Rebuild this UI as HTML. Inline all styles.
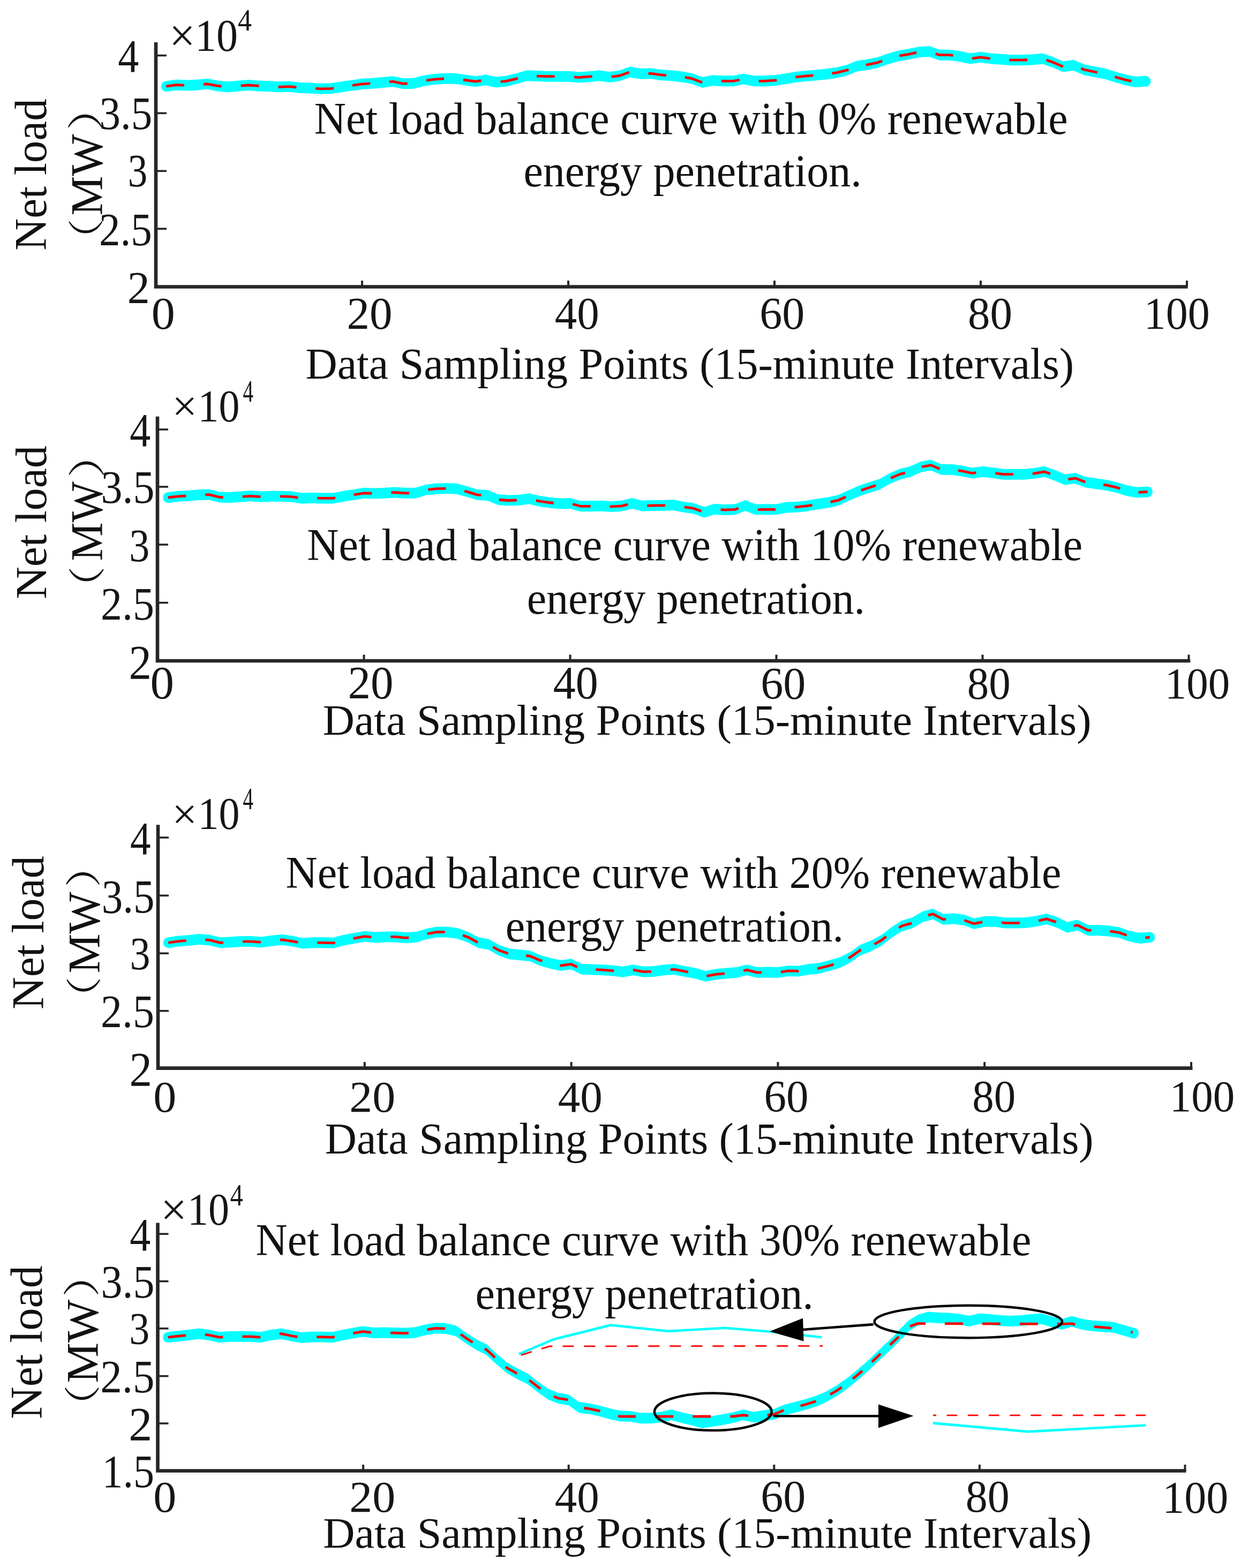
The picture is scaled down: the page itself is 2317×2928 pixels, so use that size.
<!DOCTYPE html>
<html><head><meta charset="utf-8"><title>Net load balance curves</title>
<style>html,body{margin:0;padding:0;background:#fff;}svg{display:block;}</style>
</head><body>
<svg width="2317" height="2928" viewBox="0 0 2317 2928">
<rect width="2317" height="2928" fill="#fff"/>
<path d="M310.25 151.2 L329.5 148.5 L348.75 149.6 L368 148.5 L387.25 146.8 L406.5 150.4 L425.75 152.3 L445 150.4 L464.25 149 L483.5 150.4 L502.75 151.2 L522 152.3 L541.25 151.7 L560.5 153.9 L579.75 154.5 L599 155.8 L618.25 155.3 L637.5 152.3 L656.75 149.6 L676 146.8 L695.25 145.7 L714.5 144.1 L733.75 142.2 L753 146.3 L772.25 145.7 L791.5 140.8 L810.75 138.1 L830 136.8 L849.25 136.8 L868.5 139.5 L887.75 142.2 L907 139.5 L926.25 143.6 L945.5 141.4 L964.75 136.8 L984 131.3 L1003.25 132.1 L1022.5 132.7 L1041.75 132.7 L1061 132.7 L1080.25 134.6 L1099.5 133.2 L1118.75 131.3 L1138 134 L1157.25 131.3 L1176.5 124.5 L1195.75 127.8 L1215 127.2 L1234.25 129.9 L1253.5 131.3 L1272.75 133.2 L1292 136.7 L1311.25 144.1 L1330.5 140.2 L1349.75 141.3 L1369 141.3 L1388.25 137.5 L1407.5 141.3 L1426.75 141.3 L1446 140.2 L1465.25 137.5 L1484.5 134 L1503.75 132.1 L1523 130.4 L1542.25 128.5 L1561.5 125.8 L1580.75 121.2 L1600 113.6 L1619.25 110.8 L1638.5 106.8 L1657.75 100 L1677 94.5 L1696.25 91.3 L1715.5 87.2 L1734.75 85.9 L1754 92.7 L1773.25 92.7 L1792.5 95.4 L1811.75 99.5 L1831 96.8 L1850.25 99.5 L1869.5 100.8 L1888.75 102.2 L1908 102.2 L1927.25 101.4 L1946.5 99.5 L1965.75 106.3 L1985 114.5 L2004.25 111.7 L2023.5 119.9 L2042.75 124 L2062 127.5 L2081.25 133.5 L2100.5 139 L2119.75 143 L2139 141.7 L2139 161.7 L2119.75 163 L2100.5 159 L2081.25 153.5 L2062 147.5 L2042.75 144 L2023.5 139.9 L2004.25 131.7 L1985 134.5 L1965.75 126.3 L1946.5 119.5 L1927.25 121.4 L1908 122.2 L1888.75 122.2 L1869.5 120.8 L1850.25 119.5 L1831 116.8 L1811.75 119.5 L1792.5 115.4 L1773.25 112.7 L1754 112.7 L1734.75 105.9 L1715.5 107.2 L1696.25 111.3 L1677 114.5 L1657.75 120 L1638.5 126.8 L1619.25 130.8 L1600 133.6 L1580.75 141.2 L1561.5 145.8 L1542.25 148.5 L1523 150.4 L1503.75 152.1 L1484.5 154 L1465.25 157.5 L1446 160.2 L1426.75 161.3 L1407.5 161.3 L1388.25 157.5 L1369 161.3 L1349.75 161.3 L1330.5 160.2 L1311.25 164.1 L1292 156.7 L1272.75 153.2 L1253.5 151.3 L1234.25 149.9 L1215 147.2 L1195.75 147.8 L1176.5 144.5 L1157.25 151.3 L1138 154 L1118.75 151.3 L1099.5 153.2 L1080.25 154.6 L1061 152.7 L1041.75 152.7 L1022.5 152.7 L1003.25 152.1 L984 151.3 L964.75 156.8 L945.5 161.4 L926.25 163.6 L907 159.5 L887.75 162.2 L868.5 159.5 L849.25 156.8 L830 156.8 L810.75 158.1 L791.5 160.8 L772.25 165.7 L753 166.3 L733.75 162.2 L714.5 164.1 L695.25 165.7 L676 166.8 L656.75 169.6 L637.5 172.3 L618.25 175.3 L599 175.8 L579.75 174.5 L560.5 173.9 L541.25 171.7 L522 172.3 L502.75 171.2 L483.5 170.4 L464.25 169 L445 170.4 L425.75 172.3 L406.5 170.4 L387.25 166.8 L368 168.5 L348.75 169.6 L329.5 168.5 L310.25 171.2 Z " fill="#00FFFF"/>
<ellipse cx="310.25" cy="161.2" rx="9.5" ry="10.0" fill="#00FFFF"/>
<ellipse cx="2139" cy="151.7" rx="9.5" ry="10.0" fill="#00FFFF"/>
<path d="M310.25 161.2 L329.5 158.5 L343.99 159.33 M380.14 157.43 L387.25 156.8 L406.5 160.4 L413.73 161.11 M449.81 160.05 L464.25 159 L483.5 160.4 L483.57 160.4 M519.64 162.17 L522 162.3 L541.25 161.7 L553.33 163.08 M589.32 165.15 L599 165.8 L618.25 165.3 L622.96 164.57 M658.05 159.41 L676 156.8 L691.17 155.93 M727.07 152.86 L733.75 152.2 L753 156.3 L760.83 156.06 M796.11 150.15 L810.75 148.1 L829.11 146.86 M865.03 149.01 L868.5 149.5 L887.75 152.2 L898.59 150.68 M934.68 152.64 L945.5 151.4 L964.75 146.8 L966.77 146.22 M1001.99 142.05 L1003.25 142.1 L1022.5 142.7 L1035.76 142.7 M1071.91 143.78 L1080.25 144.6 L1099.5 143.2 L1105.69 142.59 M1141.75 143.47 L1157.25 141.3 L1174.79 135.11 M1210.53 137.34 L1215 137.2 L1234.25 139.9 L1243.94 140.6 M1278.91 144.32 L1292 146.7 L1311.05 154.02 M1346.95 151.14 L1349.75 151.3 L1369 151.3 L1380.66 149 M1416.82 151.3 L1426.75 151.3 L1446 150.2 L1450.3 149.6 M1485.34 143.92 L1503.75 142.1 L1518.39 140.81 M1553.57 136.91 L1561.5 135.8 L1580.75 131.2 L1584.32 129.79 M1616.82 121.15 L1619.25 120.8 L1638.5 116.8 L1647.24 113.71 M1679.35 104.11 L1696.25 101.3 L1711.07 98.14 M1746.86 100.18 L1754 102.7 L1773.25 102.7 L1779.44 103.57 M1815.09 109.03 L1831 106.8 L1848.73 109.29 M1884.56 111.89 L1888.75 112.2 L1908 112.2 L1918.29 111.77 M1953.62 112.02 L1965.75 116.3 L1984.79 124.41 M2018.38 127.72 L2023.5 129.9 L2042.75 134 L2048.82 135.1 M2081.41 143.55 L2100.5 149 L2112.37 151.47" fill="none" stroke="#FF0000" stroke-width="4.8" stroke-linejoin="round"/>
<line x1="291" y1="103.6" x2="311" y2="103.6" stroke="#262626" stroke-width="3.6"/>
<line x1="291" y1="211.3" x2="311" y2="211.3" stroke="#262626" stroke-width="3.6"/>
<line x1="291" y1="319.3" x2="311" y2="319.3" stroke="#262626" stroke-width="3.6"/>
<line x1="291" y1="427.2" x2="311" y2="427.2" stroke="#262626" stroke-width="3.6"/>
<line x1="676" y1="535.5" x2="676" y2="524" stroke="#262626" stroke-width="4"/>
<line x1="1061" y1="535.5" x2="1061" y2="524" stroke="#262626" stroke-width="4"/>
<line x1="1446" y1="535.5" x2="1446" y2="524" stroke="#262626" stroke-width="4"/>
<line x1="1831" y1="535.5" x2="1831" y2="524" stroke="#262626" stroke-width="4"/>
<line x1="2216" y1="535.5" x2="2216" y2="524" stroke="#262626" stroke-width="4"/>
<path d="M291 79 V535.5 H2217.5" fill="none" stroke="#262626" stroke-width="6.6" stroke-linecap="butt" stroke-linejoin="miter"/>
<text transform="matrix(0.86 0 0 0.88 316.02 95.71)" font-family="'Liberation Serif', 'Times New Roman', serif" font-size="100" fill="#161616">×</text>
<text transform="matrix(0.8 0 0 0.85 364.1 94.99)" font-family="'Liberation Serif', 'Times New Roman', serif" font-size="100" fill="#161616">10</text>
<text transform="matrix(0.52 0 0 0.56 444.06 57.3)" font-family="'Liberation Serif', 'Times New Roman', serif" font-size="100" fill="#161616">4</text>
<text transform="matrix(0.78 0 0 0.87 220.33 133.5)" font-family="'Liberation Serif', 'Times New Roman', serif" font-size="100" fill="#161616">4</text>
<text transform="matrix(0.79 0 0 0.86 185.46 240.94)" font-family="'Liberation Serif', 'Times New Roman', serif" font-size="100" fill="#161616">3.5</text>
<text transform="matrix(0.73 0 0 0.86 238.73 348.14)" font-family="'Liberation Serif', 'Times New Roman', serif" font-size="100" fill="#161616">3</text>
<text transform="matrix(0.79 0 0 0.86 185.03 457.74)" font-family="'Liberation Serif', 'Times New Roman', serif" font-size="100" fill="#161616">2.5</text>
<text transform="matrix(0.84 0 0 0.85 237.83 565.8)" font-family="'Liberation Serif', 'Times New Roman', serif" font-size="100" fill="#161616">2</text>
<text transform="matrix(0.88 0 0 0.85 282.79 614.3)" font-family="'Liberation Serif', 'Times New Roman', serif" font-size="100" fill="#161616">0</text>
<text transform="matrix(0.85 0 0 0.85 647.61 614.3)" font-family="'Liberation Serif', 'Times New Roman', serif" font-size="100" fill="#161616">20</text>
<text transform="matrix(0.83 0 0 0.85 1035.84 614.3)" font-family="'Liberation Serif', 'Times New Roman', serif" font-size="100" fill="#161616">40</text>
<text transform="matrix(0.84 0 0 0.85 1418.14 614.3)" font-family="'Liberation Serif', 'Times New Roman', serif" font-size="100" fill="#161616">60</text>
<text transform="matrix(0.83 0 0 0.85 1806.99 614.3)" font-family="'Liberation Serif', 'Times New Roman', serif" font-size="100" fill="#161616">80</text>
<text transform="matrix(0.82 0 0 0.84 2135.66 614.32)" font-family="'Liberation Serif', 'Times New Roman', serif" font-size="100" fill="#161616">100</text>
<text transform="matrix(0.82 0 0 0.83 570.44 706.7)" font-family="'Liberation Serif', 'Times New Roman', serif" font-size="100" fill="#111">Data Sampling Points (15-minute Intervals)</text>
<text transform="matrix(0.82 0 0 0.85 586.83 249.9)" font-family="'Liberation Serif', 'Times New Roman', serif" font-size="100" fill="#111">Net load balance curve with 0% renewable</text>
<text transform="matrix(0.82 0 0 0.85 977.41 348.2)" font-family="'Liberation Serif', 'Times New Roman', serif" font-size="100" fill="#111">energy penetration.</text>
<text transform="matrix(0 -0.83 0.85 0 86 467.8)" font-family="'Liberation Serif', 'Times New Roman', serif" font-size="100" fill="#111">Net load</text>
<text transform="matrix(0 -0.83 0.85 0 190.6 402.5)" font-family="'Liberation Serif', 'Times New Roman', serif" font-size="100" fill="#111">MW</text>
<text transform="matrix(0 -0.78 0.67 0 185.31 486.32)" font-family="'Liberation Serif', 'Noto Serif CJK SC', serif" font-size="100" fill="#111">（</text>
<text transform="matrix(0 -0.85 0.68 0 185.18 243.44)" font-family="'Liberation Serif', 'Noto Serif CJK SC', serif" font-size="100" fill="#111">）</text>
<path d="M313.75 919 L333 916.8 L352.25 915.7 L371.5 914.1 L390.75 913.6 L410 918.5 L429.25 919 L448.5 917.6 L467.75 916.3 L487 917.6 L506.25 916.8 L525.5 916.8 L544.75 917.6 L564 920.4 L583.25 919.8 L602.5 920.4 L621.75 920.4 L641 916.8 L660.25 914.1 L679.5 910.8 L698.75 911.4 L718 910.8 L737.25 909.5 L756.5 910.8 L775.75 910.8 L795 904.8 L814.25 902.7 L833.5 902.1 L852.75 902.7 L872 908.1 L891.25 914.1 L910.5 914.9 L929.75 923.1 L949 924.5 L968.25 923.9 L987.5 921.2 L1006.75 925.8 L1026 928.5 L1045.25 930.4 L1064.5 929.9 L1083.75 935.3 L1103 935.3 L1122.25 934.8 L1141.5 935.9 L1160.75 934.8 L1180 929.9 L1199.25 934.8 L1218.5 934 L1237.75 933.9 L1257 933.1 L1276.25 936.7 L1295.5 939.4 L1314.75 946.7 L1334 940.7 L1353.25 942.1 L1372.5 941.3 L1391.75 933.9 L1411 941.6 L1430.25 941.3 L1449.5 941.3 L1468.75 937.5 L1488 936.7 L1507.25 934.7 L1526.5 931.2 L1545.75 928.5 L1565 924.2 L1584.25 915.5 L1603.5 907 L1622.75 900.5 L1642 894.5 L1661.25 883.6 L1680.5 875.4 L1699.75 870.8 L1719 862.1 L1738.25 858.6 L1757.5 866.8 L1776.75 866.8 L1796 869.5 L1815.25 873.6 L1834.5 870.8 L1853.75 873 L1873 875.7 L1892.25 875.7 L1911.5 875.7 L1930.75 874.1 L1950 870.8 L1969.25 877.6 L1988.5 885.8 L2007.75 883.1 L2027 890.4 L2046.25 893.2 L2065.5 895.9 L2084.75 900.2 L2104 906.2 L2123.25 909.5 L2142.5 908.4 L2142.5 928.4 L2123.25 929.5 L2104 926.2 L2084.75 920.2 L2065.5 915.9 L2046.25 913.2 L2027 910.4 L2007.75 903.1 L1988.5 905.8 L1969.25 897.6 L1950 890.8 L1930.75 894.1 L1911.5 895.7 L1892.25 895.7 L1873 895.7 L1853.75 893 L1834.5 890.8 L1815.25 893.6 L1796 889.5 L1776.75 886.8 L1757.5 886.8 L1738.25 878.6 L1719 882.1 L1699.75 890.8 L1680.5 895.4 L1661.25 903.6 L1642 914.5 L1622.75 920.5 L1603.5 927 L1584.25 935.5 L1565 944.2 L1545.75 948.5 L1526.5 951.2 L1507.25 954.7 L1488 956.7 L1468.75 957.5 L1449.5 961.3 L1430.25 961.3 L1411 961.6 L1391.75 953.9 L1372.5 961.3 L1353.25 962.1 L1334 960.7 L1314.75 966.7 L1295.5 959.4 L1276.25 956.7 L1257 953.1 L1237.75 953.9 L1218.5 954 L1199.25 954.8 L1180 949.9 L1160.75 954.8 L1141.5 955.9 L1122.25 954.8 L1103 955.3 L1083.75 955.3 L1064.5 949.9 L1045.25 950.4 L1026 948.5 L1006.75 945.8 L987.5 941.2 L968.25 943.9 L949 944.5 L929.75 943.1 L910.5 934.9 L891.25 934.1 L872 928.1 L852.75 922.7 L833.5 922.1 L814.25 922.7 L795 924.8 L775.75 930.8 L756.5 930.8 L737.25 929.5 L718 930.8 L698.75 931.4 L679.5 930.8 L660.25 934.1 L641 936.8 L621.75 940.4 L602.5 940.4 L583.25 939.8 L564 940.4 L544.75 937.6 L525.5 936.8 L506.25 936.8 L487 937.6 L467.75 936.3 L448.5 937.6 L429.25 939 L410 938.5 L390.75 933.6 L371.5 934.1 L352.25 935.7 L333 936.8 L313.75 939 Z " fill="#00FFFF"/>
<ellipse cx="313.75" cy="929" rx="9.5" ry="10.0" fill="#00FFFF"/>
<ellipse cx="2142.5" cy="918.4" rx="9.5" ry="10.0" fill="#00FFFF"/>
<path d="M313.75 929 L333 926.8 L347.31 925.98 M383.28 923.79 L390.75 923.6 L410 928.5 L416.73 928.67 M452.76 927.31 L467.75 926.3 L486.54 927.57 M522.74 926.8 L525.5 926.8 L544.75 927.6 L556.34 929.29 M592.42 930.09 L602.5 930.4 L621.75 930.4 L626.03 929.6 M660.92 923.98 L679.5 920.8 L694.33 921.26 M730.48 919.96 L737.25 919.5 L756.5 920.8 L764.19 920.8 M799.37 914.32 L814.25 912.7 L832.51 912.13 M867.27 916.77 L872 918.1 L891.25 924.1 L898.33 924.39 M931.86 933.25 L949 934.5 L964.87 934.01 M1000.89 934.4 L1006.75 935.8 L1026 938.5 L1033.66 939.26 M1069.2 941.22 L1083.75 945.3 L1102.56 945.3 M1138.74 945.74 L1141.5 945.9 L1160.75 944.8 L1172.28 941.87 M1208.39 944.42 L1218.5 944 L1237.75 943.9 L1242.05 943.72 M1277.72 946.91 L1295.5 949.4 L1309.64 954.76 M1345.53 951.54 L1353.25 952.1 L1372.5 951.3 L1378.72 948.91 M1414.8 951.54 L1430.25 951.3 L1447.97 951.3 M1483.57 946.88 L1488 946.7 L1507.25 944.7 L1516.5 943.02 M1550.56 937.43 L1565 934.2 L1579.21 927.78 M1607.95 915.5 L1622.75 910.5 L1635.13 906.64 M1663.09 892.81 L1680.5 885.4 L1689.92 883.15 M1721 871.74 L1738.25 868.6 L1754.45 875.5 M1789.06 878.53 L1796 879.5 L1815.25 883.6 L1822.46 882.55 M1858.47 883.66 L1873 885.7 L1892 885.7 M1927.95 884.33 L1930.75 884.1 L1950 880.8 L1960.87 884.64 M1994.38 894.98 L2007.75 893.1 L2026.44 900.19 M2060.21 905.16 L2065.5 905.9 L2084.75 910.2 L2091.34 912.25 M2125.58 919.37 L2142.5 918.4" fill="none" stroke="#FF0000" stroke-width="4.8" stroke-linejoin="round"/>
<line x1="294" y1="802" x2="314" y2="802" stroke="#262626" stroke-width="3.6"/>
<line x1="294" y1="909" x2="314" y2="909" stroke="#262626" stroke-width="3.6"/>
<line x1="294" y1="1017" x2="314" y2="1017" stroke="#262626" stroke-width="3.6"/>
<line x1="294" y1="1125.5" x2="314" y2="1125.5" stroke="#262626" stroke-width="3.6"/>
<line x1="679.5" y1="1234" x2="679.5" y2="1222.5" stroke="#262626" stroke-width="4"/>
<line x1="1064.5" y1="1234" x2="1064.5" y2="1222.5" stroke="#262626" stroke-width="4"/>
<line x1="1449.5" y1="1234" x2="1449.5" y2="1222.5" stroke="#262626" stroke-width="4"/>
<line x1="1834.5" y1="1234" x2="1834.5" y2="1222.5" stroke="#262626" stroke-width="4"/>
<line x1="2219.5" y1="1234" x2="2219.5" y2="1222.5" stroke="#262626" stroke-width="4"/>
<path d="M294 777.8 V1234 H2222.3" fill="none" stroke="#262626" stroke-width="6.6" stroke-linecap="butt" stroke-linejoin="miter"/>
<text transform="matrix(0.83 0 0 0.83 321.24 785.82)" font-family="'Liberation Serif', 'Times New Roman', serif" font-size="100" fill="#161616">×</text>
<text transform="matrix(0.78 0 0 0.84 369.46 787.23)" font-family="'Liberation Serif', 'Times New Roman', serif" font-size="100" fill="#161616">10</text>
<text transform="matrix(0.39 0 0 0.58 453.51 750)" font-family="'Liberation Serif', 'Times New Roman', serif" font-size="100" fill="#161616">4</text>
<text transform="matrix(0.78 0 0 0.88 242.25 832.5)" font-family="'Liberation Serif', 'Times New Roman', serif" font-size="100" fill="#161616">4</text>
<text transform="matrix(0.8 0 0 0.87 188.51 939.13)" font-family="'Liberation Serif', 'Times New Roman', serif" font-size="100" fill="#161616">3.5</text>
<text transform="matrix(0.76 0 0 0.87 241.18 1047.93)" font-family="'Liberation Serif', 'Times New Roman', serif" font-size="100" fill="#161616">3</text>
<text transform="matrix(0.8 0 0 0.87 188.1 1156.63)" font-family="'Liberation Serif', 'Times New Roman', serif" font-size="100" fill="#161616">2.5</text>
<text transform="matrix(0.85 0 0 0.9 240.38 1267.5)" font-family="'Liberation Serif', 'Times New Roman', serif" font-size="100" fill="#161616">2</text>
<text transform="matrix(0.89 0 0 0.86 280.44 1304.09)" font-family="'Liberation Serif', 'Times New Roman', serif" font-size="100" fill="#161616">0</text>
<text transform="matrix(0.85 0 0 0.86 649.39 1304.09)" font-family="'Liberation Serif', 'Times New Roman', serif" font-size="100" fill="#161616">20</text>
<text transform="matrix(0.84 0 0 0.86 1032.82 1304.09)" font-family="'Liberation Serif', 'Times New Roman', serif" font-size="100" fill="#161616">40</text>
<text transform="matrix(0.84 0 0 0.84 1420.33 1304.52)" font-family="'Liberation Serif', 'Times New Roman', serif" font-size="100" fill="#161616">60</text>
<text transform="matrix(0.81 0 0 0.84 1805.84 1304.52)" font-family="'Liberation Serif', 'Times New Roman', serif" font-size="100" fill="#161616">80</text>
<text transform="matrix(0.81 0 0 0.83 2174.75 1304.04)" font-family="'Liberation Serif', 'Times New Roman', serif" font-size="100" fill="#161616">100</text>
<text transform="matrix(0.82 0 0 0.81 602.74 1371.7)" font-family="'Liberation Serif', 'Times New Roman', serif" font-size="100" fill="#111">Data Sampling Points (15-minute Intervals)</text>
<text transform="matrix(0.82 0 0 0.84 573.34 1046.3)" font-family="'Liberation Serif', 'Times New Roman', serif" font-size="100" fill="#111">Net load balance curve with 10% renewable</text>
<text transform="matrix(0.82 0 0 0.84 983.71 1146)" font-family="'Liberation Serif', 'Times New Roman', serif" font-size="100" fill="#111">energy penetration.</text>
<text transform="matrix(0 -0.84 0.83 0 86.3 1118.83)" font-family="'Liberation Serif', 'Times New Roman', serif" font-size="100" fill="#111">Net load</text>
<text transform="matrix(0 -0.81 0.85 0 191.3 1047.44)" font-family="'Liberation Serif', 'Times New Roman', serif" font-size="100" fill="#111">MW</text>
<text transform="matrix(0 -0.8 0.69 0 187.63 1137.23)" font-family="'Liberation Serif', 'Noto Serif CJK SC', serif" font-size="100" fill="#111">（</text>
<text transform="matrix(0 -0.89 0.7 0 187.51 892.55)" font-family="'Liberation Serif', 'Noto Serif CJK SC', serif" font-size="100" fill="#111">）</text>
<path d="M314.29 1750.3 L333.58 1747.6 L352.87 1745.9 L372.16 1744 L391.45 1745.4 L410.74 1750.3 L430.03 1749.5 L449.32 1748.1 L468.61 1748.1 L487.9 1749.5 L507.19 1746.8 L526.48 1744.8 L545.77 1747.6 L565.06 1751.4 L584.35 1750.3 L603.64 1750.3 L622.93 1750.8 L642.22 1745.4 L661.51 1742.1 L680.8 1738.6 L700.09 1740.5 L719.38 1739.4 L738.67 1739.4 L757.96 1741.3 L777.25 1739.9 L796.54 1734 L815.83 1730.4 L835.12 1730.4 L854.41 1733.1 L873.7 1739.9 L892.99 1750.3 L912.28 1753.6 L931.57 1764.5 L950.86 1771.3 L970.15 1773.2 L989.44 1775.3 L1008.73 1783.5 L1028.02 1789 L1047.31 1793 L1066.6 1790.3 L1085.89 1799.8 L1105.18 1800.4 L1124.47 1801.2 L1143.76 1802.6 L1163.05 1804.7 L1182.34 1801.2 L1201.63 1804.7 L1220.92 1803.9 L1240.21 1801.2 L1259.5 1800.1 L1278.79 1804 L1298.08 1807.5 L1317.37 1812.9 L1336.66 1809.4 L1355.95 1807.5 L1375.24 1806.1 L1394.53 1801.2 L1413.82 1806.1 L1433.11 1805.6 L1452.4 1806.1 L1471.69 1802.9 L1490.98 1803.4 L1510.27 1800.1 L1529.56 1798 L1548.85 1793.1 L1568.14 1787.6 L1587.43 1777.5 L1606.72 1763.9 L1626.01 1756.6 L1645.3 1746.2 L1664.59 1731.3 L1683.88 1719 L1703.17 1713.6 L1722.46 1702.1 L1741.75 1696.7 L1761.04 1706.8 L1780.33 1705.4 L1799.62 1708.1 L1818.91 1714.9 L1838.2 1710.8 L1857.49 1710.8 L1876.78 1713.6 L1896.07 1713.6 L1915.36 1713 L1934.65 1710.3 L1953.94 1705.9 L1973.23 1712.2 L1992.52 1721.7 L2011.81 1717.6 L2031.1 1727.2 L2050.39 1727.2 L2069.68 1728.5 L2088.97 1731.3 L2108.26 1738.1 L2127.55 1742.1 L2146.84 1740.2 L2146.84 1760.2 L2127.55 1762.1 L2108.26 1758.1 L2088.97 1751.3 L2069.68 1748.5 L2050.39 1747.2 L2031.1 1747.2 L2011.81 1737.6 L1992.52 1741.7 L1973.23 1732.2 L1953.94 1725.9 L1934.65 1730.3 L1915.36 1733 L1896.07 1733.6 L1876.78 1733.6 L1857.49 1730.8 L1838.2 1730.8 L1818.91 1734.9 L1799.62 1728.1 L1780.33 1725.4 L1761.04 1726.8 L1741.75 1716.7 L1722.46 1722.1 L1703.17 1733.6 L1683.88 1739 L1664.59 1751.3 L1645.3 1766.2 L1626.01 1776.6 L1606.72 1783.9 L1587.43 1797.5 L1568.14 1807.6 L1548.85 1813.1 L1529.56 1818 L1510.27 1820.1 L1490.98 1823.4 L1471.69 1822.9 L1452.4 1826.1 L1433.11 1825.6 L1413.82 1826.1 L1394.53 1821.2 L1375.24 1826.1 L1355.95 1827.5 L1336.66 1829.4 L1317.37 1832.9 L1298.08 1827.5 L1278.79 1824 L1259.5 1820.1 L1240.21 1821.2 L1220.92 1823.9 L1201.63 1824.7 L1182.34 1821.2 L1163.05 1824.7 L1143.76 1822.6 L1124.47 1821.2 L1105.18 1820.4 L1085.89 1819.8 L1066.6 1810.3 L1047.31 1813 L1028.02 1809 L1008.73 1803.5 L989.44 1795.3 L970.15 1793.2 L950.86 1791.3 L931.57 1784.5 L912.28 1773.6 L892.99 1770.3 L873.7 1759.9 L854.41 1753.1 L835.12 1750.4 L815.83 1750.4 L796.54 1754 L777.25 1759.9 L757.96 1761.3 L738.67 1759.4 L719.38 1759.4 L700.09 1760.5 L680.8 1758.6 L661.51 1762.1 L642.22 1765.4 L622.93 1770.8 L603.64 1770.3 L584.35 1770.3 L565.06 1771.4 L545.77 1767.6 L526.48 1764.8 L507.19 1766.8 L487.9 1769.5 L468.61 1768.1 L449.32 1768.1 L430.03 1769.5 L410.74 1770.3 L391.45 1765.4 L372.16 1764 L352.87 1765.9 L333.58 1767.6 L314.29 1770.3 Z " fill="#00FFFF"/>
<ellipse cx="314.29" cy="1760.3" rx="9.5" ry="10.0" fill="#00FFFF"/>
<ellipse cx="2146.84" cy="1750.2" rx="9.5" ry="10.0" fill="#00FFFF"/>
<path d="M314.29 1760.3 L333.58 1757.6 L347.68 1756.36 M383.59 1754.83 L391.45 1755.4 L410.74 1760.3 L416.96 1760.04 M453.06 1758.1 L468.61 1758.1 L486.84 1759.42 M522.89 1755.17 L526.48 1754.8 L545.77 1757.6 L556.28 1759.67 M592.26 1760.3 L603.64 1760.3 L622.93 1760.8 L625.7 1760.02 M659.89 1752.38 L661.51 1752.1 L680.8 1748.6 L693.25 1749.83 M729.41 1749.4 L738.67 1749.4 L757.96 1751.3 L763.12 1750.93 M797.8 1743.76 L815.83 1740.4 L830.71 1740.4 M864.04 1746.49 L873.7 1749.9 L892.03 1759.78 M920.54 1768.27 L931.57 1774.5 L948.59 1780.5 M982.18 1784.51 L989.44 1785.3 L1008.73 1793.5 L1012.31 1794.52 M1045.53 1802.63 L1047.31 1803 L1066.6 1800.3 L1077.74 1805.78 M1112.42 1810.7 L1124.47 1811.2 L1143.76 1812.6 L1145.97 1812.84 M1182.13 1811.24 L1182.34 1811.2 L1201.63 1814.7 L1215.92 1814.11 M1251.89 1810.53 L1259.5 1810.1 L1278.79 1814 L1284.75 1815.08 M1319.48 1822.52 L1336.66 1819.4 L1352.87 1817.8 M1388.27 1812.79 L1394.53 1811.2 L1413.82 1816.1 L1421.95 1815.89 M1457.88 1815.19 L1471.69 1812.9 L1490.98 1813.4 L1491.25 1813.35 M1526.28 1808.36 L1529.56 1808 L1548.85 1803.1 L1556.64 1800.88 M1584.09 1789.25 L1587.43 1787.5 L1606.72 1773.9 L1607.69 1773.53 M1632.58 1763.06 L1645.3 1756.2 L1654.66 1748.97 M1678.32 1732.55 L1683.88 1729 L1702.21 1723.87 M1733.01 1709.15 L1741.75 1706.7 L1761.04 1716.8 L1766.12 1716.43 M1800.62 1718.45 L1818.91 1724.9 L1834.06 1721.68 M1870.17 1722.64 L1876.78 1723.6 L1896.07 1723.6 L1903.84 1723.36 M1939.35 1719.23 L1953.94 1715.9 L1971.89 1721.76 M2005.09 1729.03 L2011.81 1727.6 L2031.1 1737.2 L2037.37 1737.2 M2072.39 1738.89 L2088.97 1741.3 L2103.68 1746.49 M2138.55 1751.02 L2146.84 1750.2" fill="none" stroke="#FF0000" stroke-width="4.8" stroke-linejoin="round"/>
<line x1="295" y1="1564" x2="315" y2="1564" stroke="#262626" stroke-width="3.6"/>
<line x1="295" y1="1672.3" x2="315" y2="1672.3" stroke="#262626" stroke-width="3.6"/>
<line x1="295" y1="1780.2" x2="315" y2="1780.2" stroke="#262626" stroke-width="3.6"/>
<line x1="295" y1="1887.7" x2="315" y2="1887.7" stroke="#262626" stroke-width="3.6"/>
<line x1="680.8" y1="1994.6" x2="680.8" y2="1983.1" stroke="#262626" stroke-width="4"/>
<line x1="1066.6" y1="1994.6" x2="1066.6" y2="1983.1" stroke="#262626" stroke-width="4"/>
<line x1="1452.4" y1="1994.6" x2="1452.4" y2="1983.1" stroke="#262626" stroke-width="4"/>
<line x1="1838.2" y1="1994.6" x2="1838.2" y2="1983.1" stroke="#262626" stroke-width="4"/>
<line x1="2224" y1="1994.6" x2="2224" y2="1983.1" stroke="#262626" stroke-width="4"/>
<path d="M295 1540.3 V1994.6 H2226.5" fill="none" stroke="#262626" stroke-width="6.6" stroke-linecap="butt" stroke-linejoin="miter"/>
<text transform="matrix(0.83 0 0 0.83 321.24 1548.32)" font-family="'Liberation Serif', 'Times New Roman', serif" font-size="100" fill="#161616">×</text>
<text transform="matrix(0.78 0 0 0.84 369.46 1548.33)" font-family="'Liberation Serif', 'Times New Roman', serif" font-size="100" fill="#161616">10</text>
<text transform="matrix(0.39 0 0 0.56 453.51 1511.1)" font-family="'Liberation Serif', 'Times New Roman', serif" font-size="100" fill="#161616">4</text>
<text transform="matrix(0.77 0 0 0.86 242.96 1595)" font-family="'Liberation Serif', 'Times New Roman', serif" font-size="100" fill="#161616">4</text>
<text transform="matrix(0.79 0 0 0.89 189.87 1704.11)" font-family="'Liberation Serif', 'Times New Roman', serif" font-size="100" fill="#161616">3.5</text>
<text transform="matrix(0.76 0 0 0.87 242.5 1810.43)" font-family="'Liberation Serif', 'Times New Roman', serif" font-size="100" fill="#161616">3</text>
<text transform="matrix(0.8 0 0 0.87 188.1 1917.93)" font-family="'Liberation Serif', 'Times New Roman', serif" font-size="100" fill="#161616">2.5</text>
<text transform="matrix(0.85 0 0 0.9 241.62 2027.5)" font-family="'Liberation Serif', 'Times New Roman', serif" font-size="100" fill="#161616">2</text>
<text transform="matrix(0.86 0 0 0.83 286.34 2076.14)" font-family="'Liberation Serif', 'Times New Roman', serif" font-size="100" fill="#161616">0</text>
<text transform="matrix(0.86 0 0 0.83 652.26 2076.14)" font-family="'Liberation Serif', 'Times New Roman', serif" font-size="100" fill="#161616">20</text>
<text transform="matrix(0.83 0 0 0.83 1041.64 2076.14)" font-family="'Liberation Serif', 'Times New Roman', serif" font-size="100" fill="#161616">40</text>
<text transform="matrix(0.83 0 0 0.84 1426.59 2075.82)" font-family="'Liberation Serif', 'Times New Roman', serif" font-size="100" fill="#161616">60</text>
<text transform="matrix(0.81 0 0 0.84 1815.24 2075.82)" font-family="'Liberation Serif', 'Times New Roman', serif" font-size="100" fill="#161616">80</text>
<text transform="matrix(0.81 0 0 0.83 2183.72 2074.94)" font-family="'Liberation Serif', 'Times New Roman', serif" font-size="100" fill="#161616">100</text>
<text transform="matrix(0.82 0 0 0.82 606.84 2154)" font-family="'Liberation Serif', 'Times New Roman', serif" font-size="100" fill="#111">Data Sampling Points (15-minute Intervals)</text>
<text transform="matrix(0.82 0 0 0.84 533.44 1658.2)" font-family="'Liberation Serif', 'Times New Roman', serif" font-size="100" fill="#111">Net load balance curve with 20% renewable</text>
<text transform="matrix(0.82 0 0 0.84 943.71 1757.7)" font-family="'Liberation Serif', 'Times New Roman', serif" font-size="100" fill="#111">energy penetration.</text>
<text transform="matrix(0 -0.84 0.84 0 81.3 1885.03)" font-family="'Liberation Serif', 'Times New Roman', serif" font-size="100" fill="#111">Net load</text>
<text transform="matrix(0 -0.83 0.85 0 186.3 1817.5)" font-family="'Liberation Serif', 'Times New Roman', serif" font-size="100" fill="#111">MW</text>
<text transform="matrix(0 -0.8 0.67 0 181.45 1903.53)" font-family="'Liberation Serif', 'Noto Serif CJK SC', serif" font-size="100" fill="#111">（</text>
<text transform="matrix(0 -0.8 0.67 0 180.25 1656.92)" font-family="'Liberation Serif', 'Noto Serif CJK SC', serif" font-size="100" fill="#111">）</text>
<path d="M313.68 2487.2 L332.86 2485 L352.04 2483.1 L371.22 2480.4 L390.4 2483.1 L409.58 2487.2 L428.76 2485.8 L447.94 2485.8 L467.12 2485.8 L486.3 2487.2 L505.48 2483.1 L524.66 2480.4 L543.84 2484.5 L563.02 2487.7 L582.2 2486.6 L601.38 2486.6 L620.56 2487.2 L639.74 2483.1 L658.92 2479.6 L678.1 2476.3 L697.28 2479 L716.46 2478.5 L735.64 2479 L754.82 2479.6 L774 2478.5 L793.18 2473.6 L812.36 2470.3 L831.54 2470.8 L850.72 2474.9 L869.9 2488.5 L889.08 2500.8 L908.26 2510.3 L927.44 2528 L946.62 2544.3 L965.8 2555.2 L984.98 2564.8 L1004.16 2579.7 L1023.34 2593.4 L1042.52 2601 L1061.7 2604.2 L1080.88 2617.9 L1100.06 2620.6 L1119.24 2624.7 L1138.42 2630.1 L1157.6 2634.2 L1176.78 2634.7 L1195.96 2638.3 L1215.14 2638.3 L1234.32 2636 L1253.5 2631.9 L1272.68 2637.3 L1291.86 2641.4 L1311.04 2646.9 L1330.22 2644.1 L1349.4 2640.9 L1368.58 2637.3 L1387.76 2631.9 L1406.94 2636.5 L1426.12 2633.2 L1445.3 2631 L1464.48 2623 L1483.66 2618 L1502.84 2613 L1522.02 2607 L1541.2 2599 L1560.38 2588 L1579.56 2575 L1598.74 2559.5 L1617.92 2543 L1637.1 2524.6 L1656.28 2506.5 L1675.46 2488.5 L1694.64 2467 L1713.82 2455 L1733 2449.5 L1752.18 2451 L1771.36 2451.5 L1790.54 2453.5 L1809.72 2457 L1828.9 2452.5 L1848.08 2454 L1867.26 2456 L1886.44 2457 L1905.62 2456 L1924.8 2454 L1943.98 2452.5 L1963.16 2458 L1982.34 2463.1 L2001.52 2457.6 L2020.7 2463.1 L2039.88 2465.8 L2059.06 2467.2 L2078.24 2468.5 L2097.42 2474 L2116.6 2479.4 L2116.6 2499.4 L2097.42 2494 L2078.24 2488.5 L2059.06 2487.2 L2039.88 2485.8 L2020.7 2483.1 L2001.52 2477.6 L1982.34 2483.1 L1963.16 2478 L1943.98 2472.5 L1924.8 2474 L1905.62 2476 L1886.44 2477 L1867.26 2476 L1848.08 2474 L1828.9 2472.5 L1809.72 2477 L1790.54 2473.5 L1771.36 2471.5 L1752.18 2471 L1733 2469.5 L1713.82 2475 L1694.64 2487 L1675.46 2508.5 L1656.28 2526.5 L1637.1 2544.6 L1617.92 2563 L1598.74 2579.5 L1579.56 2595 L1560.38 2608 L1541.2 2619 L1522.02 2627 L1502.84 2633 L1483.66 2638 L1464.48 2643 L1445.3 2651 L1426.12 2653.2 L1406.94 2656.5 L1387.76 2651.9 L1368.58 2657.3 L1349.4 2660.9 L1330.22 2664.1 L1311.04 2666.9 L1291.86 2661.4 L1272.68 2657.3 L1253.5 2651.9 L1234.32 2656 L1215.14 2658.3 L1195.96 2658.3 L1176.78 2654.7 L1157.6 2654.2 L1138.42 2650.1 L1119.24 2644.7 L1100.06 2640.6 L1080.88 2637.9 L1061.7 2624.2 L1042.52 2621 L1023.34 2613.4 L1004.16 2599.7 L984.98 2584.8 L965.8 2575.2 L946.62 2564.3 L927.44 2548 L908.26 2530.3 L889.08 2520.8 L869.9 2508.5 L850.72 2494.9 L831.54 2490.8 L812.36 2490.3 L793.18 2493.6 L774 2498.5 L754.82 2499.6 L735.64 2499 L716.46 2498.5 L697.28 2499 L678.1 2496.3 L658.92 2499.6 L639.74 2503.1 L620.56 2507.2 L601.38 2506.6 L582.2 2506.6 L563.02 2507.7 L543.84 2504.5 L524.66 2500.4 L505.48 2503.1 L486.3 2507.2 L467.12 2505.8 L447.94 2505.8 L428.76 2505.8 L409.58 2507.2 L390.4 2503.1 L371.22 2500.4 L352.04 2503.1 L332.86 2505 L313.68 2507.2 Z M1665.46 2498.5 L1684.64 2477 L1704.64 2477 L1685.46 2498.5 Z" fill="#00FFFF"/>
<ellipse cx="313.68" cy="2497.2" rx="9.5" ry="10.0" fill="#00FFFF"/>
<ellipse cx="2116.6" cy="2489.4" rx="9.5" ry="10.0" fill="#00FFFF"/>
<path d="M313.68 2497.2 L332.86 2495 L347.02 2493.6 M382.94 2492.05 L390.4 2493.1 L409.58 2497.2 L416.33 2496.71 M452.45 2495.8 L467.12 2495.8 L486.16 2497.19 M521.98 2490.78 L524.66 2490.4 L543.84 2494.5 L555.3 2496.41 M591.28 2496.6 L601.38 2496.6 L620.56 2497.2 L624.83 2496.29 M659.38 2489.52 L678.1 2486.3 L693 2488.4 M729.11 2488.83 L735.64 2489 L754.82 2489.6 L762.78 2489.14 M797.74 2482.82 L812.36 2480.3 L831.04 2480.79 M860.04 2491.51 L869.9 2498.5 L882.67 2506.69 M904.89 2518.63 L908.26 2520.3 L924.21 2535.02 M944.3 2552.33 L946.62 2554.3 L965.26 2564.89 M988.4 2577.46 L1004.16 2589.7 L1009.37 2593.42 M1034.32 2607.75 L1042.52 2611 L1060.44 2613.99 M1090.45 2629.25 L1100.06 2630.6 L1119.24 2634.7 L1120.51 2635.06 M1153.84 2644.04 L1157.6 2645 L1176.78 2645 L1187.16 2645 M1223.36 2645 L1234.32 2645 L1253.5 2645 L1257.16 2645 M1293.36 2645 L1311.04 2645 L1327.16 2645 M1363.31 2645 L1368.58 2645 L1387.76 2642.5 L1397.08 2643.71 M1432.72 2642.44 L1445.3 2641 L1463.33 2633.48 M1494.68 2625.13 L1502.84 2623 L1522.02 2617 L1523.4 2616.43 M1550.04 2603.93 L1560.38 2598 L1571.6 2590.39 M1592.26 2574.74 L1598.74 2569.5 L1609.97 2559.84 M1628.02 2543.31 L1637.1 2534.6 L1644.43 2527.68 M1661.68 2511.43 L1675.46 2498.5 L1677.91 2495.95 M1699.01 2476.85 L1713.2 2471.5 L1727.83 2471.54 M1764.03 2471.65 L1797.83 2471.75 M1834.02 2471.86 L1867.82 2471.96 M1904.01 2472.07 L1937.81 2472.17 M1974 2472.27 L1982.8 2472.3 L2001.8 2471.7 L2007.09 2473.41 M2042.71 2477.42 L2045.4 2477.7 L2075.34 2480.18 M2111.23 2487.26 L2114.8 2488" fill="none" stroke="#FF0000" stroke-width="4.8" stroke-linejoin="round"/>
<line x1="294.5" y1="2304.2" x2="314.5" y2="2304.2" stroke="#262626" stroke-width="3.6"/>
<line x1="294.5" y1="2392.6" x2="314.5" y2="2392.6" stroke="#262626" stroke-width="3.6"/>
<line x1="294.5" y1="2480.7" x2="314.5" y2="2480.7" stroke="#262626" stroke-width="3.6"/>
<line x1="294.5" y1="2569.6" x2="314.5" y2="2569.6" stroke="#262626" stroke-width="3.6"/>
<line x1="294.5" y1="2658" x2="314.5" y2="2658" stroke="#262626" stroke-width="3.6"/>
<line x1="678.1" y1="2746.5" x2="678.1" y2="2735" stroke="#262626" stroke-width="4"/>
<line x1="1061.7" y1="2746.5" x2="1061.7" y2="2735" stroke="#262626" stroke-width="4"/>
<line x1="1445.3" y1="2746.5" x2="1445.3" y2="2735" stroke="#262626" stroke-width="4"/>
<line x1="1828.9" y1="2746.5" x2="1828.9" y2="2735" stroke="#262626" stroke-width="4"/>
<line x1="2212.5" y1="2746.5" x2="2212.5" y2="2735" stroke="#262626" stroke-width="4"/>
<path d="M294.5 2283.4 V2746.5 H2214.6" fill="none" stroke="#262626" stroke-width="6.6" stroke-linecap="butt" stroke-linejoin="miter"/>
<path d="M969 2528.4 L1033.7 2501 L1140.3 2474.4 L1246.8 2485.8 L1353.4 2479.7 L1444.7 2487.3 L1534.1 2497.2" fill="none" stroke="#00FFFF" stroke-width="4.6"/>
<path d="M972.8 2530.3 L1026.1 2514 L1536 2513.3" fill="none" stroke="#FF0000" stroke-width="2.8" stroke-dasharray="21 19"/>
<path d="M1742 2657.4 L1919.2 2673.4 L2139.2 2661.5" fill="none" stroke="#00FFFF" stroke-width="4.6"/>
<path d="M1742 2642.8 L2139.2 2642.8" fill="none" stroke="#FF0000" stroke-width="2.8" stroke-dasharray="19.5 19.7" stroke-dashoffset="13.5"/>
<ellipse cx="1807.8" cy="2468" rx="175.2" ry="30.2" fill="none" stroke="#000" stroke-width="4.5"/>
<ellipse cx="1331.3" cy="2636.3" rx="109.4" ry="34.8" fill="none" stroke="#000" stroke-width="4.5"/>
<line x1="1630.7" y1="2473.1" x2="1495" y2="2483.2" stroke="#000" stroke-width="4.6"/>
<polygon points="1437,2486.3 1499,2461.5 1500.5,2504.5" fill="#000"/>
<line x1="1444" y1="2644.3" x2="1643" y2="2644.3" stroke="#000" stroke-width="4.6"/>
<polygon points="1705.5,2644 1640,2622.4 1640,2666.6" fill="#000"/>
<text transform="matrix(0.87 0 0 0.87 300.04 2287.68)" font-family="'Liberation Serif', 'Times New Roman', serif" font-size="100" fill="#161616">×</text>
<text transform="matrix(0.78 0 0 0.84 349.94 2287.23)" font-family="'Liberation Serif', 'Times New Roman', serif" font-size="100" fill="#161616">10</text>
<text transform="matrix(0.48 0 0 0.58 429.73 2251.4)" font-family="'Liberation Serif', 'Times New Roman', serif" font-size="100" fill="#161616">4</text>
<text transform="matrix(0.78 0 0 0.86 242.25 2335)" font-family="'Liberation Serif', 'Times New Roman', serif" font-size="100" fill="#161616">4</text>
<text transform="matrix(0.8 0 0 0.87 188.51 2422.93)" font-family="'Liberation Serif', 'Times New Roman', serif" font-size="100" fill="#161616">3.5</text>
<text transform="matrix(0.76 0 0 0.85 241.18 2510.45)" font-family="'Liberation Serif', 'Times New Roman', serif" font-size="100" fill="#161616">3</text>
<text transform="matrix(0.81 0 0 0.87 187.27 2600.43)" font-family="'Liberation Serif', 'Times New Roman', serif" font-size="100" fill="#161616">2.5</text>
<text transform="matrix(0.88 0 0 0.88 240.3 2688.8)" font-family="'Liberation Serif', 'Times New Roman', serif" font-size="100" fill="#161616">2</text>
<text transform="matrix(0.78 0 0 0.86 190.47 2776.64)" font-family="'Liberation Serif', 'Times New Roman', serif" font-size="100" fill="#161616">1.5</text>
<text transform="matrix(0.86 0 0 0.83 286.34 2823.24)" font-family="'Liberation Serif', 'Times New Roman', serif" font-size="100" fill="#161616">0</text>
<text transform="matrix(0.86 0 0 0.83 652.26 2823.24)" font-family="'Liberation Serif', 'Times New Roman', serif" font-size="100" fill="#161616">20</text>
<text transform="matrix(0.83 0 0 0.83 1035.84 2823.24)" font-family="'Liberation Serif', 'Times New Roman', serif" font-size="100" fill="#161616">40</text>
<text transform="matrix(0.84 0 0 0.84 1420.33 2822.62)" font-family="'Liberation Serif', 'Times New Roman', serif" font-size="100" fill="#161616">60</text>
<text transform="matrix(0.82 0 0 0.84 1802.74 2822.62)" font-family="'Liberation Serif', 'Times New Roman', serif" font-size="100" fill="#161616">80</text>
<text transform="matrix(0.82 0 0 0.85 2170.32 2824.91)" font-family="'Liberation Serif', 'Times New Roman', serif" font-size="100" fill="#161616">100</text>
<text transform="matrix(0.82 0 0 0.81 603.34 2890.3)" font-family="'Liberation Serif', 'Times New Roman', serif" font-size="100" fill="#111">Data Sampling Points (15-minute Intervals)</text>
<text transform="matrix(0.82 0 0 0.85 477.53 2344)" font-family="'Liberation Serif', 'Times New Roman', serif" font-size="100" fill="#111">Net load balance curve with 30% renewable</text>
<text transform="matrix(0.82 0 0 0.85 887.51 2443.5)" font-family="'Liberation Serif', 'Times New Roman', serif" font-size="100" fill="#111">energy penetration.</text>
<text transform="matrix(0 -0.84 0.84 0 77.5 2650.03)" font-family="'Liberation Serif', 'Times New Roman', serif" font-size="100" fill="#111">Net load</text>
<text transform="matrix(0 -0.85 0.85 0 182.5 2582.54)" font-family="'Liberation Serif', 'Times New Roman', serif" font-size="100" fill="#111">MW</text>
<text transform="matrix(0 -0.8 0.68 0 178.84 2666.03)" font-family="'Liberation Serif', 'Noto Serif CJK SC', serif" font-size="100" fill="#111">（</text>
<text transform="matrix(0 -0.85 0.69 0 177.63 2422.25)" font-family="'Liberation Serif', 'Noto Serif CJK SC', serif" font-size="100" fill="#111">）</text>
</svg>
</body></html>
